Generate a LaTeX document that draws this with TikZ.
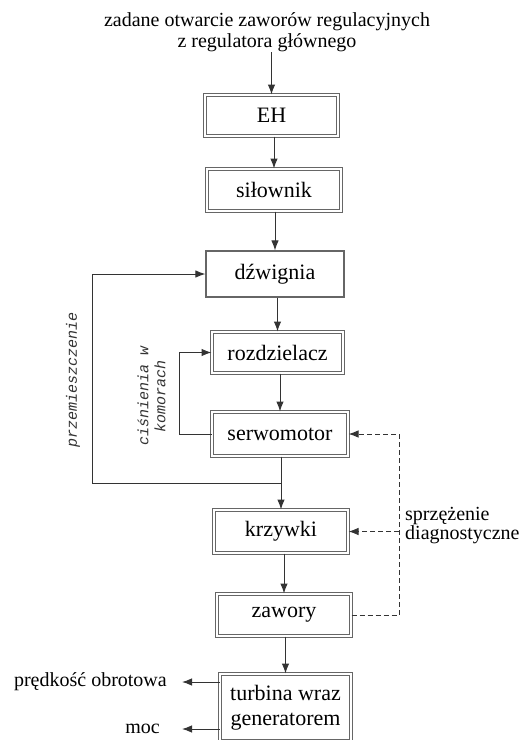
\documentclass[tikz,border=0pt]{standalone}
\usepackage{fontspec}
\setmainfont{Liberation Serif}
\setmonofont{Liberation Mono}
\usetikzlibrary{arrows.meta,positioning}

\tikzset{
  blok/.style={draw=black!60, line width=1pt, double=white, double distance=1.5pt,
    align=center, inner sep=0pt, font=\fontsize{22}{25}\selectfont},
  blokpoj/.style={draw=black!60, line width=1.2pt, align=center, inner sep=0pt,
    font=\fontsize{22}{25}\selectfont},
  strz/.style={draw=black!80, line width=1pt, -{Latex[length=10pt,width=7.5pt]}},
  przer/.style={draw=black!60, line width=1pt, dash pattern=on 5pt off 3pt},
  etyk/.style={inner sep=0pt, align=left, font=\fontsize{20}{17}\selectfont},
  obrot/.style={inner sep=0pt, rotate=90, align=center, font=\ttfamily\itshape\fontsize{15}{17}\selectfont, text=black!80}
}

\begin{document}
\begin{tikzpicture}[x=1pt,y=-1pt]
  \useasboundingbox (0,0) rectangle (521,740);

	% Input
	\node[etyk, align=center, font=\fontsize{20}{21}\selectfont] (tytul) at (267,32.5)
	  {zadane otwarcie zaworów regulacyjnych\\z regulatora głównego};

	% Blocks
	\node[blok, minimum width=133pt, minimum height=41pt] (eh) at (271.5,115.5) {EH};
	\node[blok, minimum width=134pt, minimum height=42pt] (silownik) at (274,190) {siłownik};
	\node[blokpoj, minimum width=138pt, minimum height=46pt] (dzwignia) at (275,274) {dźwignia};
	\node[blok, minimum width=131pt, minimum height=41pt] (rozdz) at (277.5,352.5) {rozdzielacz};
	\node[blok, minimum width=136pt, minimum height=44pt] (serwo) at (280,434) {serwomotor};
	\node[blok, minimum width=134pt, minimum height=43pt] (krzywki) at (281,531.5) {krzywki};
	\node[blok, minimum width=134pt, minimum height=42pt] (zawory) at (284,615) {zawory};
	\node[blok, minimum width=131pt, minimum height=67pt] (turbina) at (285.5,707.5) {turbina wraz\\generatorem};

	% Main path
	\draw[strz] (eh.north |- tytul.south) -- (eh.north);
	\foreach \a/\b in {eh/silownik, silownik/dzwignia, dzwignia/rozdz, rozdz/serwo, serwo/krzywki, krzywki/zawory, zawory/turbina}
	  \draw[strz] (\b.north |- \a.south) -- (\b.north);

	% Feedback - displacement
	\coordinate (jn) at (281,483);
	\coordinate (lewo) at (92,483);
	\draw[strz] (jn) -- (lewo) |- (dzwignia.west);
	\node[obrot] (przem) at (73,380) {przemieszczenie};

	% Feedback - chamber pressure
	\coordinate (cl) at (179,0);
	\draw[strz] (serwo.west) -- (serwo.west -| cl) |- (rozdz.west);
	\node[obrot] (cisn) at (151.5,396) {ciśnienia w\\komorach};

	% Diagnostic feedback
	\coordinate (dx) at (399,0);
	\draw[przer, strz] (zawory.east) -- (zawory.east -| dx) -- (dx |- serwo.east) -- (serwo.east);
	\draw[przer, strz] (dx |- krzywki.east) -- (krzywki.east);
	\node[etyk, anchor=west] (diag) at (405,525.5) {sprzężenie\\diagnostyczne};

	% Outputs
	\coordinate (w1) at (182,682);
	\coordinate (w2) at (182,729);
	\draw[strz] (turbina.west |- w1) -- (w1);
	\draw[strz] (turbina.west |- w2) -- (w2);
	\node[etyk, left=15pt of w1] (predkosc) {prędkość obrotowa};
	\node[etyk, left=22pt of w2] (moc) {moc};

\end{tikzpicture}
\end{document}
